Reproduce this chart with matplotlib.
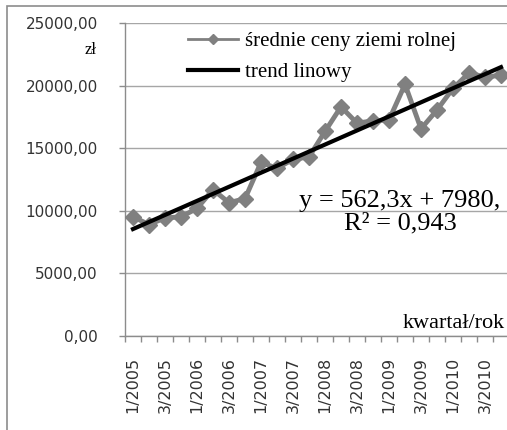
import matplotlib
matplotlib.use("Agg")
import matplotlib.pyplot as plt
from matplotlib.patches import Rectangle
import numpy as np

quarters = ["1/2005", "2/2005", "3/2005", "4/2005",
            "1/2006", "2/2006", "3/2006", "4/2006",
            "1/2007", "2/2007", "3/2007", "4/2007",
            "1/2008", "2/2008", "3/2008", "4/2008",
            "1/2009", "2/2009", "3/2009", "4/2009",
            "1/2010", "2/2010", "3/2010", "4/2010"]
prices = [9520, 8900, 9430, 9520, 10190, 11690, 10650, 10970,
          13870, 13390, 14110, 14300, 16340, 18310, 17000, 17190,
          17260, 20100, 16550, 18050, 19780, 21010, 20690, 20820]
trend_slope = 562.3
trend_intercept = 7980
y_ticks = [0, 5000, 10000, 15000, 20000, 25000]
y_tick_labels = ["0,00", "5000,00", "10000,00", "15000,00", "20000,00", "25000,00"]
series_label = "średnie ceny ziemi rolnej"
trend_label = "trend linowy"

W, H = 507, 430
fig = plt.figure(figsize=(W / 100, H / 100), dpi=100)
fig.patch.set_facecolor("white")

fig.patches.append(Rectangle((7 / W, -0.1), 1.2, (H - 6) / H + 0.1,
                             transform=fig.transFigure, fill=False,
                             edgecolor="#8c8c8c", linewidth=1.2))

ax = fig.add_axes([125 / W, 94 / H, 384 / W, 313 / H])
ax.set_facecolor("none")

x = np.arange(len(prices))
ax.plot(x, prices, color="#808080", linewidth=3.5, marker="D", markersize=8,
        markerfacecolor="#808080", markeredgecolor="#808080", zorder=3,
        label=series_label)
xt = np.arange(1, len(prices) + 1)
ax.plot(x, trend_slope * xt + trend_intercept, color="black", linewidth=3,
        zorder=4, label=trend_label)

ax.set_xlim(-0.5, len(prices) - 0.5)
ax.set_ylim(0, 25000)
ax.set_yticks(y_ticks)
ax.set_yticklabels(y_tick_labels, fontsize=11, family="DejaVu Sans", color="#333333")
ax.set_xticks(x[::2])
ax.set_xticklabels(quarters[::2], rotation=90, fontsize=11.5,
                   family="DejaVu Sans", color="#333333")
ax.set_xticks(np.arange(-0.5, len(prices), 1), minor=True)
ax.tick_params(axis="x", which="major", length=0, pad=15)
ax.tick_params(axis="x", which="minor", length=4, color="#8c8c8c", width=1)
ax.tick_params(axis="y", length=4.5, color="#8c8c8c", width=1, pad=15)

ax.grid(axis="y", color="#a6a6a6", linewidth=1)
ax.set_axisbelow(True)
for s in ["top", "right"]:
    ax.spines[s].set_visible(False)
for s in ["left", "bottom"]:
    ax.spines[s].set_color("#8c8c8c")
    ax.spines[s].set_linewidth(1)

leg = ax.legend(loc="upper left", bbox_to_anchor=(55 / 384, 1.0),
                frameon=False, prop={"family": "Liberation Serif", "size": 15},
                handlelength=2.4, handletextpad=0.3, labelspacing=0.55,
                borderaxespad=0.0)
leg.legend_handles[0].set_linewidth(2)
leg.legend_handles[0].set_markersize(5)

fig.text(97 / W, 1 - 50 / H, "zł", ha="right", va="center",
         family="Liberation Serif", fontsize=12)
fig.text(400 / W, 1 - 212 / H, "y = 562,3x + 7980,\nR² = 0,943", ha="center",
         va="center", family="Liberation Serif", fontsize=19, linespacing=1.0)
fig.text(505 / W, 1 - 323 / H, "kwartał/rok", ha="right", va="center",
         family="Liberation Serif", fontsize=16)

fig.savefig("out.png", dpi=100)
